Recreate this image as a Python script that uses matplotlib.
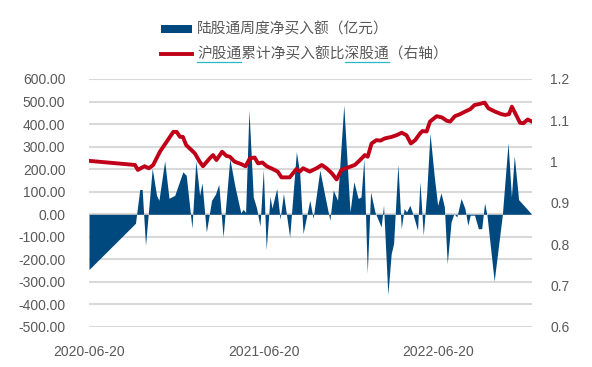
import matplotlib
matplotlib.use("Agg")
import matplotlib.pyplot as plt
import matplotlib.dates as mdates
from matplotlib.patches import Patch
from matplotlib.lines import Line2D
from matplotlib.ticker import FixedLocator, FuncFormatter
import pandas as pd

plt.rcParams['font.family'] = ['Liberation Sans', 'Noto Sans CJK SC', 'DejaVu Sans']

# ---- data ----
area_dates = ["2020-06-20","2020-09-25","2020-10-04","2020-10-09","2020-10-16","2020-10-30","2020-11-08","2020-11-13",
              "2020-11-25","2020-12-04","2020-12-16","2021-01-02","2021-01-09","2021-01-21","2021-01-29","2021-02-06",
              "2021-02-11","2021-02-20","2021-03-03","2021-03-11","2021-03-18","2021-03-27","2021-04-10","2021-04-21",
              "2021-05-03","2021-05-08","2021-05-13","2021-05-20","2021-05-29","2021-06-05","2021-06-12","2021-06-19",
              "2021-06-25","2021-07-03","2021-07-07","2021-07-17","2021-07-24","2021-07-31","2021-08-13","2021-08-27",
              "2021-09-03","2021-09-10","2021-09-24","2021-10-01","2021-10-15","2021-10-26","2021-11-05","2021-11-12",
              "2021-11-21","2021-12-04","2021-12-17","2021-12-25","2022-01-03","2022-01-09","2022-01-15","2022-01-22",
              "2022-01-29","2022-02-07","2022-02-20","2022-02-25","2022-03-06","2022-03-13","2022-03-18","2022-03-27",
              "2022-04-03","2022-04-09","2022-04-14","2022-04-21","2022-04-28","2022-05-07","2022-05-12","2022-05-19",
              "2022-05-26","2022-06-02","2022-06-11","2022-06-18","2022-06-25","2022-07-02","2022-07-08","2022-07-16",
              "2022-07-22","2022-07-28","2022-08-06","2022-08-14","2022-08-20","2022-08-25","2022-09-03","2022-09-11",
              "2022-09-18","2022-09-24","2022-09-29","2022-10-14","2022-10-31","2022-11-12","2022-11-19","2022-11-25",
              "2022-12-04","2022-12-21","2022-12-30"]
weekly_net_buy = [-245,-40,110,110,-138,204,84,62,237,71,84,188,173,-62,237,84,139,-79,62,89,133,-101,247,121,
                  6,22,8,462,77,27,-53,199,-157,80,27,114,-22,92,-101,277,182,-86,62,-18,196,77,-27,107,62,484,
                  10,144,70,77,247,-261,99,10,-56,40,-356,-175,-130,222,-64,25,10,40,-4,-71,144,-93,92,359,166,
                  40,95,33,-219,-34,3,-12,70,25,-49,-4,-4,-64,-64,50,-4,-296,-4,317,77,259,65,25,3]

ratio_dates = ["2020-06-20","2020-09-24","2020-09-30","2020-10-06","2020-10-14","2020-10-23","2020-11-01","2020-11-15",
               "2020-11-29","2020-12-13","2020-12-20","2020-12-27","2021-01-02","2021-01-09","2021-01-20","2021-01-27",
               "2021-02-06","2021-02-13","2021-02-27","2021-03-06","2021-03-13","2021-03-25","2021-04-03","2021-04-10",
               "2021-04-20","2021-05-04","2021-05-13","2021-05-22","2021-06-01","2021-06-08","2021-06-17","2021-06-26",
               "2021-07-09","2021-07-19","2021-07-27","2021-08-13","2021-08-27","2021-09-03","2021-09-10","2021-09-24",
               "2021-10-08","2021-10-19","2021-10-29","2021-11-09","2021-11-19","2021-11-29","2021-12-13","2021-12-27",
               "2022-01-07","2022-01-17","2022-01-23","2022-01-31","2022-02-10","2022-02-19","2022-02-27","2022-03-14",
               "2022-03-24","2022-04-04","2022-04-14","2022-04-23","2022-05-02","2022-05-12","2022-05-17","2022-05-26",
               "2022-06-02","2022-06-16","2022-06-27","2022-07-07","2022-07-14","2022-07-24","2022-08-04","2022-08-14",
               "2022-08-25","2022-09-03","2022-09-15","2022-09-24","2022-10-02","2022-10-16","2022-10-29","2022-11-06",
               "2022-11-14","2022-11-20","2022-11-27","2022-12-07","2022-12-14","2022-12-23","2023-01-01"]
sh_sz_ratio = [1.002,0.992,0.980,0.984,0.989,0.984,0.992,1.024,1.048,1.072,1.072,1.060,1.060,1.040,1.028,1.020,
               1.000,0.989,1.008,1.016,1.004,1.024,1.014,1.012,1.000,0.994,0.989,1.008,1.010,0.996,0.998,0.989,
               0.982,0.976,0.962,0.962,0.982,0.976,0.984,0.976,0.984,0.992,0.984,0.972,0.957,0.980,0.986,0.992,
               1.004,1.016,1.012,1.044,1.052,1.051,1.056,1.060,1.064,1.070,1.064,1.044,1.052,1.068,1.074,1.073,
               1.097,1.110,1.107,1.099,1.097,1.110,1.115,1.121,1.127,1.137,1.140,1.143,1.129,1.121,1.115,1.113,
               1.115,1.133,1.117,1.094,1.093,1.102,1.097]

x_ticks = ["2020-06-20", "2021-06-20", "2022-06-20"]
x_range = ["2020-06-20", "2023-01-01"]
left_ticks = [600, 500, 400, 300, 200, 100, 0, -100, -200, -300, -400, -500]
right_ticks = [1.2, 1.1, 1.0, 0.9, 0.8, 0.7, 0.6]
label_area = "陆股通周度净买入额（亿元）"
label_line = "沪股通累计净买入额比深股通（右轴）"

# ---- style ----
BLUE = "#00497f"
RED = "#c00018"
GRID = "#d9d9d9"
TXT = "#595959"

fig = plt.figure(figsize=(5.92, 3.67), dpi=100)
ax = fig.add_axes([89/592, 1-327/367, (532-89)/592, (327-79)/367])
ax2 = ax.twinx()

ad = pd.to_datetime(area_dates)
rd = pd.to_datetime(ratio_dates)

ax.fill_between(ad, weekly_net_buy, 0, color=BLUE, linewidth=0, zorder=2)
ax.set_ylim(-500, 600)
ax.yaxis.set_major_locator(FixedLocator(left_ticks))
ax.yaxis.set_major_formatter(FuncFormatter(lambda v, p: f"{v:.2f}"))
ax.grid(axis='y', color=GRID, linewidth=1.5, zorder=0)
ax.set_axisbelow(True)

ax2.plot(rd, sh_sz_ratio, color=RED, linewidth=2.8, solid_joinstyle='round', zorder=3)
ax2.set_ylim(0.6, 1.2)
ax2.yaxis.set_major_locator(FixedLocator(right_ticks))
ax2.yaxis.set_major_formatter(FuncFormatter(lambda v, p: f"{v:g}"))

ax.set_xlim(pd.to_datetime(x_range[0]), pd.to_datetime(x_range[1]))
ax.xaxis.set_major_locator(FixedLocator(mdates.date2num(pd.to_datetime(x_ticks))))
ax.xaxis.set_major_formatter(mdates.DateFormatter("%Y-%m-%d"))

for a in (ax, ax2):
    for s in a.spines.values():
        s.set_visible(False)
    a.tick_params(length=0, labelsize=10, labelcolor=TXT)
ax.tick_params(axis='y', pad=17)
ax.tick_params(axis='x', pad=13)
ax2.tick_params(axis='y', pad=13)

handles = [Patch(facecolor=BLUE, edgecolor='none'), Line2D([], [], color=RED, linewidth=2.8)]
leg = fig.legend(handles, [label_area, label_line], loc='upper left',
                 bbox_to_anchor=(154/592, 1-15/367), frameon=False, borderpad=0,
                 handlelength=2.1, handleheight=0.45, handletextpad=0.33, labelspacing=0.68,
                 prop={'family': ['Noto Sans CJK SC', 'DejaVu Sans'], 'size': 10.6})
for t in leg.get_texts():
    t.set_color(TXT)

# spell-check style underlines under 沪股通 and 深股通
fig.canvas.draw()
r = fig.canvas.get_renderer()
bb = leg.get_texts()[1].get_window_extent(r)
cw = bb.width / len(label_line)
inv = fig.transFigure.inverted()
for i0 in (0, 10):
    x0, y0 = inv.transform((bb.x0 + i0*cw, bb.y0 - 1))
    x1, _ = inv.transform((bb.x0 + (i0+3)*cw, bb.y0 - 1))
    fig.add_artist(Line2D([x0, x1], [y0, y0], color="#2fb5c8", linewidth=0.9, transform=fig.transFigure))

fig.savefig("out.png", dpi=100)
